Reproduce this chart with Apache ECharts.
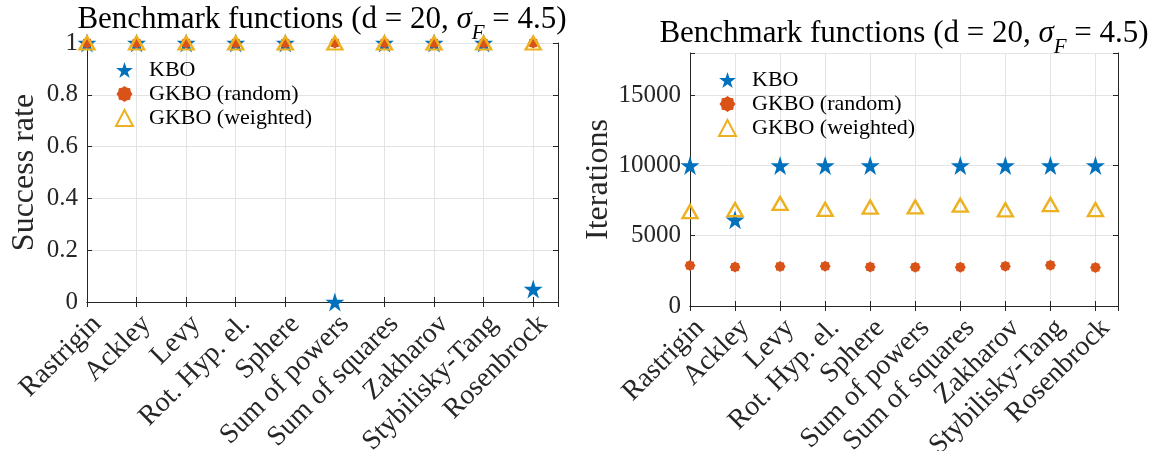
<!DOCTYPE html>
<html>
<head>
<meta charset="utf-8">
<script src="https://cdn.jsdelivr.net/npm/echarts@6/dist/echarts.min.js"></script>
<style>html,body{margin:0;padding:0;background:#fff;}#c{width:1156px;height:451px;}</style>
</head>
<body>
<div id="c"></div>
<script>
const categories = ['Rastrigin','Ackley','Levy','Rot. Hyp. el.','Sphere','Sum of powers','Sum of squares','Zakharov','Stybilisky-Tang','Rosenbrock'];
const seriesNames = ['KBO','GKBO (random)','GKBO (weighted)'];
const kboSuccess    = [1, 1, 1, 1, 1, 0, 1, 1, 1, 0.05];
const randomSuccess = [1, 1, 1, 1, 1, 1, 1, 1, 1, 1];
const weightSuccess = [1, 1, 1, 1, 1, 1, 1, 1, 1, 1];
const kboIter    = [10000, 6130, 10000, 10000, 10000, null, 10000, 10000, 10000, 10000];
const randomIter = [2880, 2770, 2810, 2830, 2780, 2760, 2760, 2830, 2900, 2740];
const weightIter = [6720, 6860, 7300, 6880, 7040, 7050, 7170, 6840, 7220, 6860];
const successTicks = ['0', '0.2', '0.4', '0.6', '0.8', '1'];
const iterTicks = ['0', '5000', '10000', '15000'];

const FONT = 'Liberation Serif';
const C_KBO = '#0072BD', C_RAND = '#D95319', C_W = '#EDB120';
const STAR = 'path://M50,0 L61.2,34.5 L97.6,34.5 L68.2,55.9 L79.4,90.5 L50,69.1 L20.6,90.5 L31.8,55.9 L2.4,34.5 L38.8,34.5 Z';
let pts = [];
for (let k = 0; k < 16; k++) {
  const r = (k % 2 === 0) ? 50 : 42;
  const a = k * Math.PI / 8;
  pts.push((50 + r * Math.sin(a)).toFixed(2) + ',' + (50 - r * Math.cos(a)).toFixed(2));
}
const ASTER = 'path://M' + pts.join(' L') + ' Z';

const toPts = arr => arr.map((v, i) => [i + 1, v]);
const catFmt = v => (Number.isInteger(v) && v >= 1 && v <= categories.length) ? categories[v - 1] : '';
const tickFmt = list => v => {
  const s = String(Math.round(v * 1000) / 1000);
  return list.indexOf(s) >= 0 ? s : '';
};

function xAxes(gi) {
  return [
    { type: 'value', gridIndex: gi, min: 1, max: 10.5, interval: 1,
      axisLine: { lineStyle: { color: '#262626', width: 1 } },
      axisTick: { inside: true, length: 5, lineStyle: { color: '#262626' } },
      axisLabel: { rotate: 45, formatter: catFmt, color: '#262626', fontFamily: FONT, fontSize: 28,
                   margin: 8, verticalAlign: 'top' },
      splitLine: { show: true, lineStyle: { color: '#e3e3e3', width: 1 } } },
    { type: 'value', gridIndex: gi, position: 'top', min: 1, max: 10.5, interval: 1,
      axisLine: { lineStyle: { color: '#262626', width: 1 } },
      axisTick: { inside: true, length: 5, lineStyle: { color: '#262626' } },
      axisLabel: { show: false }, splitLine: { show: false } }
  ];
}
function yAxes(gi, max, interval, name, fmt, nameGap) {
  return [
    { type: 'value', gridIndex: gi, min: 0, max: max, interval: interval,
      name: name, nameLocation: 'middle', nameGap: nameGap,
      nameTextStyle: { fontFamily: FONT, fontSize: 32, color: '#262626' },
      axisLine: { show: true, lineStyle: { color: '#262626', width: 1 } },
      axisTick: { inside: true, length: 5, lineStyle: { color: '#262626' } },
      axisLabel: { formatter: fmt, color: '#262626', fontFamily: FONT, fontSize: 25, margin: 9 },
      splitLine: { show: true, lineStyle: { color: '#e3e3e3', width: 1 } } },
    { type: 'value', gridIndex: gi, position: 'right', min: 0, max: max, interval: interval,
      axisLine: { show: true, lineStyle: { color: '#262626', width: 1 } },
      axisTick: { inside: true, length: 5, lineStyle: { color: '#262626' } },
      axisLabel: { show: false }, splitLine: { show: false } }
  ];
}

function makeSeries(name, data, xi, yi) {
  const base = { name: name, type: 'scatter', xAxisIndex: xi, yAxisIndex: yi, data: data, clip: false, animation: false };
  if (name === seriesNames[0]) return Object.assign(base, { symbol: STAR, symbolSize: 19, itemStyle: { color: C_KBO, opacity: 1 }, z: 2 });
  if (name === seriesNames[1]) return Object.assign(base, { symbol: ASTER, symbolSize: 11, itemStyle: { color: C_RAND, opacity: 1 }, z: 3 });
  return Object.assign(base, { symbol: 'triangle', symbolSize: [15, 13], itemStyle: { color: 'rgba(255,255,255,0)', borderColor: C_W, borderWidth: 2.4, opacity: 1 }, z: 4 });
}

const titleRich = {
  i: { fontFamily: FONT, fontSize: 31, fontStyle: 'italic', color: '#000' },
  sub: { fontFamily: FONT, fontSize: 21, fontStyle: 'italic', color: '#000', verticalAlign: 'bottom', padding: [0, 0, -9, 0] }
};
const titleText = 'Benchmark functions (d = 20, {i|σ}{sub|F} = 4.5)';

const legendCommon = {
  orient: 'vertical', itemWidth: 17, itemHeight: 16, itemGap: 2,
  textStyle: { fontFamily: FONT, fontSize: 22, lineHeight: 22, color: '#000', padding: [0, 0, 0, 11] },
  data: [
    { name: seriesNames[0], icon: STAR },
    { name: seriesNames[1], icon: ASTER },
    { name: seriesNames[2], icon: 'triangle' }
  ]
};

const chart = echarts.init(document.getElementById('c'));
chart.setOption({
  backgroundColor: '#fff',
  animation: false,
  title: [
    { text: titleText, left: 317, top: -1, textAlign: 'center',
      textStyle: { fontFamily: FONT, fontSize: 31, fontWeight: 'normal', color: '#000', rich: titleRich } },
    { text: titleText, left: 899, top: 13, textAlign: 'center',
      textStyle: { fontFamily: FONT, fontSize: 31, fontWeight: 'normal', color: '#000', rich: titleRich } }
  ],
  legend: [
    Object.assign({}, legendCommon, { left: 110, top: 54 }),
    Object.assign({}, legendCommon, { left: 713, top: 64 })
  ],
  grid: [
    { left: 87, right: 598, top: 43, bottom: 149, show: false, containLabel: false, outerBoundsMode: 'none' },
    { left: 690, right: 38, top: 53, bottom: 145, show: false, containLabel: false, outerBoundsMode: 'none' }
  ],
  xAxis: xAxes(0).concat(xAxes(1)),
  yAxis: yAxes(0, 1, 0.2, 'Success rate', tickFmt(successTicks), 46)
          .concat(yAxes(1, 18000, 5000, 'Iterations', tickFmt(iterTicks), 75)),
  series: [
    makeSeries(seriesNames[0], toPts(kboSuccess), 0, 0),
    makeSeries(seriesNames[1], toPts(randomSuccess), 0, 0),
    makeSeries(seriesNames[2], toPts(weightSuccess), 0, 0),
    makeSeries(seriesNames[0], toPts(kboIter), 2, 2),
    makeSeries(seriesNames[1], toPts(randomIter), 2, 2),
    makeSeries(seriesNames[2], toPts(weightIter), 2, 2)
  ]
});
</script>
</body>
</html>
